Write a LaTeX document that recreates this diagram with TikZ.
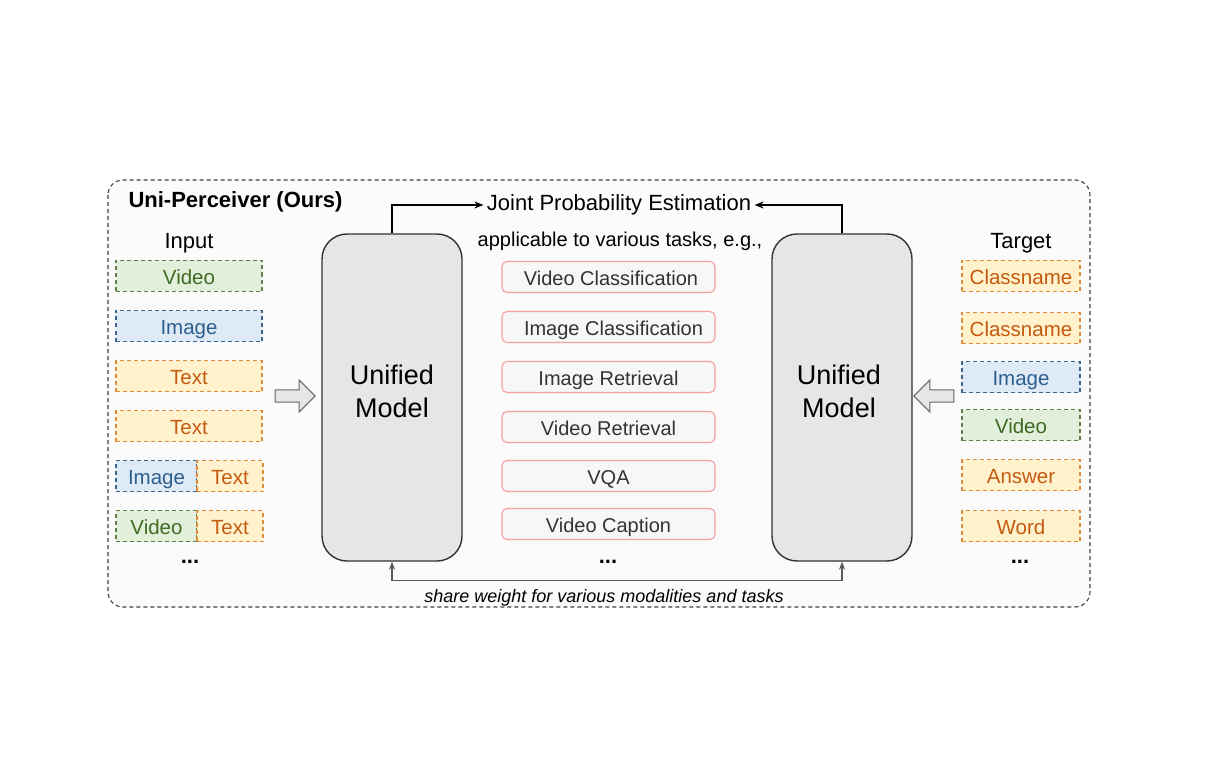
\documentclass[tikz,border=0pt]{standalone}
\usepackage{fontspec}
\setmainfont{Liberation Sans}
\usepackage{tikz}
\usetikzlibrary{arrows.meta,positioning,calc,shapes.arrows}

\definecolor{vidfill}{HTML}{E2EFDA}
\definecolor{viddraw}{HTML}{5E7F45}
\definecolor{vidtext}{HTML}{3F6B25}
\definecolor{imgfill}{HTML}{DEEBF7}
\definecolor{imgdraw}{HTML}{3A6690}
\definecolor{imgtext}{HTML}{2E5E8E}
\definecolor{txtfill}{HTML}{FFF2CC}
\definecolor{txtdraw}{HTML}{E08A3C}
\definecolor{txttext}{HTML}{C55A11}
\definecolor{taskdraw}{HTML}{F4A0A0}
\definecolor{taskfill}{HTML}{F7F7F7}
\definecolor{modelfill}{HTML}{E6E6E6}

\newcommand{\fs}[1]{\fontsize{#1}{#1}\selectfont}

\begin{document}
\begin{tikzpicture}[x=1pt,y=-1pt,
			tok/.style={draw,dashed,dash pattern=on 4pt off 3pt,line width=1.1pt,inner sep=0pt,minimum height=31pt,text height=17pt,text depth=0.5pt,font=\fs{20.5}},
			vid/.style={tok,fill=vidfill,draw=viddraw,text=vidtext},
			img/.style={tok,fill=imgfill,draw=imgdraw,text=imgtext},
			txt/.style={tok,fill=txtfill,draw=txtdraw,text=txttext},
			task/.style={draw=taskdraw,fill=taskfill,line width=1.1pt,rounded corners=5pt,minimum width=213pt,minimum height=31pt,inner sep=0pt,text height=18pt,text depth=0.6pt,text=black!80,font=\fs{20}},
			model/.style={draw=black!80,fill=modelfill,line width=1.4pt,rounded corners=25pt,minimum width=140pt,minimum height=327pt,inner sep=0pt},
			bigarrow/.style={single arrow,draw=black!60,fill=modelfill,line width=1pt,minimum height=40pt,minimum width=32pt,single arrow head extend=4pt,inner sep=2pt},
			lbl/.style={font=\fs{22}},
			dots/.style={font=\fs{22}\bfseries}]
		\useasboundingbox (0,0) rectangle (1208,770);
		% outer frame
		\draw [black!75,dashed,dash pattern=on 4pt off 3pt,line width=1.1pt,rounded corners=15pt,fill=black!1.5] (108,180) rectangle (1090,607);
		\path 	(125,202) node (title) [anchor=west,font=\fs{22}\bfseries] {Uni-Perceiver (Ours)}
		        (189,243) node (input) [lbl] {Input}
		        (1021,243) node (target) [lbl] {Target};
		% input tokens
		\path 	(189,276) node (i1) [vid,minimum width=146pt] {Video}
		        (189,326) node (i2) [img,minimum width=146pt] {Image}
		        (189,376) node (i3) [txt,minimum width=146pt] {Text}
		        (189,426) node (i4) [txt,minimum width=146pt] {Text}
		        (156.5,476) node (i5a) [img,minimum width=81pt] {Image}
		        (230,476) node (i5b) [txt,minimum width=66pt] {Text}
		        (156.5,526) node (i6a) [vid,minimum width=81pt] {Video}
		        (230,526) node (i6b) [txt,minimum width=66pt] {Text}
		        (190,562) node (idots) [dots] {...};
		% target tokens
		\path 	(1021,276) node (t1) [txt,minimum width=118pt] {Classname}
		        (1021,328) node (t2) [txt,minimum width=118pt] {Classname}
		        (1021,377) node (t3) [img,minimum width=118pt] {Image}
		        (1021,425) node (t4) [vid,minimum width=118pt] {Video}
		        (1021,475) node (t5) [txt,minimum width=118pt] {Answer}
		        (1021,526) node (t6) [txt,minimum width=118pt] {Word}
		        (1020,562) node (tdots) [dots] {...};
		% models
		\path 	(392,397.5) node (m1) [model] {}
		        (842,397.5) node (m2) [model] {};
		\node [font=\fs{27},align=center] at (392,391) {Unified\\[6pt]Model};
		\node [font=\fs{27},align=center] at (839,391) {Unified\\[6pt]Model};
		\path 	(292,396) node (a1) [bigarrow] {}
		        (937,396) node (a2) [bigarrow,shape border rotate=180] {};
		% tasks
		\path 	(619,205) node (jpe) [lbl] {Joint Probability Estimation}
		        (620,241) node (appl) [font=\fs{20}] {applicable to various tasks, e.g.,}
		        (608.5,277) node (k1) [task] {\hspace{5pt}Video Classification}
		        (608.5,327) node (k2) [task] {\hspace{10pt}Image Classification}
		        (608.5,377) node (k3) [task] {Image Retrieval}
		        (608.5,427) node (k4) [task] {Video Retrieval}
		        (608.5,476) node (k5) [task] {VQA}
		        (608.5,524) node (k6) [task] {Video Caption}
		        (608,562) node (kdots) [dots] {...};
		\draw [black,line width=1.3pt,-{Stealth[length=9pt,width=7pt]}] (m1.north) |- (jpe.west);
		\draw [black,line width=1.3pt,-{Stealth[length=9pt,width=7pt]}] (m2.north) |- (jpe.east);
		% shared weights
		\draw [black!65,line width=1.1pt,{Stealth[length=8pt,width=6pt]}-{Stealth[length=8pt,width=6pt]}] (m1.south) -- ++(0,19) -| (m2.south);
		\node (share) [font=\fs{18}\itshape] at (604,598) {share weight for various modalities and tasks};
	\end{tikzpicture}
\end{document}
